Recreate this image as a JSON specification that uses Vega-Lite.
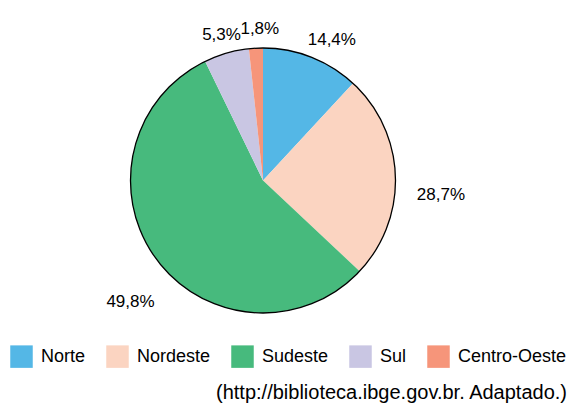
{
  "$schema": "https://vega.github.io/schema/vega-lite/v6.json",
  "width": 526,
  "height": 361,
  "autosize": {"type": "none"},
  "padding": {"left": 0, "top": 0, "right": 42, "bottom": 44},
  "background": "white",
  "config": {"view": {"stroke": null}, "font": "Liberation Sans"},
  "title": {
    "text": "(http://biblioteca.ibge.gov.br. Adaptado.)",
    "orient": "bottom",
    "anchor": "end",
    "fontSize": 20,
    "fontWeight": "normal",
    "color": "black",
    "offset": 15,
    "font": "Liberation Sans"
  },
  "data": {
    "values": [
      {"regiao": "Norte", "ordem": 1, "fatia": 11.9, "rotulo": "14,4%"},
      {"regiao": "Nordeste", "ordem": 2, "fatia": 25.1, "rotulo": "28,7%"},
      {"regiao": "Sudeste", "ordem": 3, "fatia": 55.8, "rotulo": "49,8%"},
      {"regiao": "Sul", "ordem": 4, "fatia": 5.5, "rotulo": "5,3%"},
      {"regiao": "Centro-Oeste", "ordem": 5, "fatia": 1.7, "rotulo": "1,8%"}
    ]
  },
  "layer": [
    {
      "mark": {"type": "arc", "outerRadius": 132.5, "strokeWidth": 0},
      "encoding": {
        "theta": {"field": "fatia", "type": "quantitative", "stack": true},
        "order": {"field": "ordem", "type": "quantitative"},
        "color": {
          "field": "regiao",
          "type": "nominal",
          "sort": ["Norte", "Nordeste", "Sudeste", "Sul", "Centro-Oeste"],
          "scale": {
            "domain": ["Norte", "Nordeste", "Sudeste", "Sul", "Centro-Oeste"],
            "range": ["#54B7E6", "#FBD4C1", "#47BA7D", "#C9C6E3", "#F6957A"]
          },
          "legend": {
            "title": null,
            "orient": "none",
            "legendX": 10,
            "legendY": 345,
            "direction": "horizontal",
            "symbolType": "square",
            "symbolSize": 506,
            "symbolStrokeWidth": 0,
            "symbolOpacity": 1,
            "labelFontSize": 18,
            "labelFont": "Liberation Sans",
            "labelColor": "black",
            "labelOffset": 8,
            "labelLimit": 300,
            "columnPadding": 20,
            "padding": 0
          }
        }
      }
    },
    {
      "transform": [{"aggregate": [{"op": "sum", "field": "fatia", "as": "fatia"}]}],
      "mark": {"type": "arc", "outerRadius": 132.5, "filled": false, "stroke": "black", "strokeWidth": 1.3},
      "encoding": {
        "theta": {"field": "fatia", "type": "quantitative", "stack": true}
      }
    },
    {
      "mark": {"type": "text", "radius": 172, "dx": 6, "dy": 20, "fontSize": 17, "font": "Liberation Sans", "color": "black", "align": "center", "baseline": "middle"},
      "encoding": {
        "theta": {"field": "fatia", "type": "quantitative", "stack": true},
        "order": {"field": "ordem", "type": "quantitative"},
        "text": {"field": "rotulo"}
      }
    }
  ]
}
